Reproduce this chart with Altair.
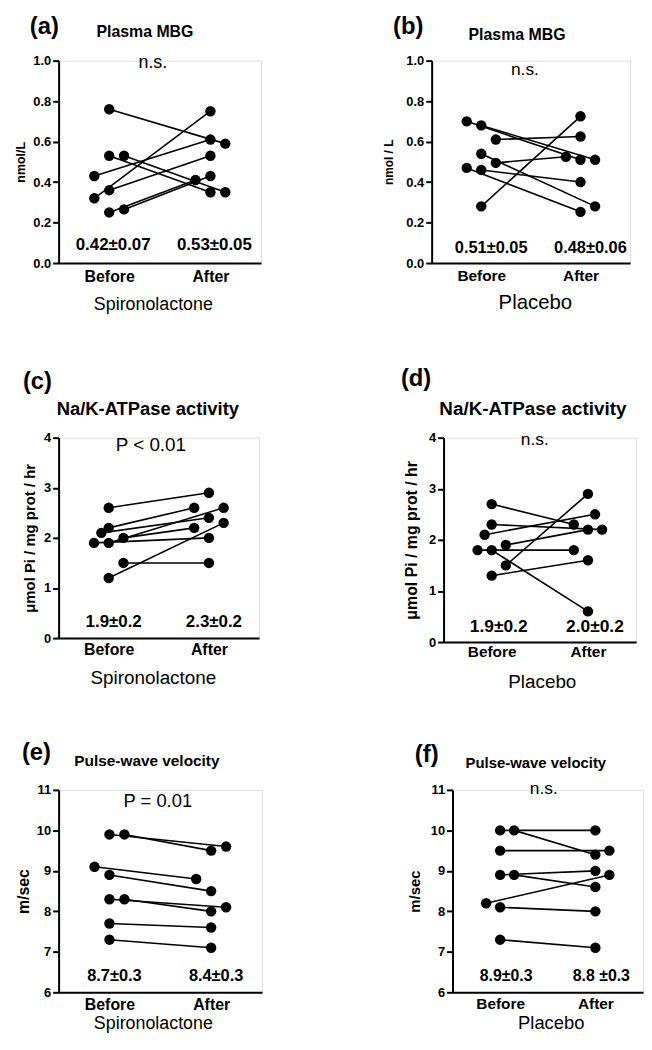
import altair as alt
import pandas as pd

# ---------------- data ----------------
# (a) Plasma MBG, Spironolactone
a_before = [0.76, 0.43, 0.32, 0.36, 0.53, 0.53, 0.25, 0.265]
a_after = [0.59, 0.61, 0.75, 0.53, 0.35, 0.35, 0.41, 0.43]
a_before_jit = [0, -1, -1, 0, 0, 1, 0, 1]
a_after_jit = [1, 0, 0, 0, 0, 1, -1, 0]
a_means = ["0.42\u00b10.07", "0.53\u00b10.05"]

# (b) Plasma MBG, Placebo
b_before = [0.70, 0.68, 0.61, 0.54, 0.495, 0.47, 0.46, 0.28]
b_after = [0.51, 0.51, 0.625, 0.28, 0.525, 0.253, 0.40, 0.725]
b_before_jit = [-1, 0, 1, 0, 1, -1, 0, 0]
b_after_jit = [0, 1, 0, 1, -1, 0, 0, 0]
b_means = ["0.51\u00b10.05", "0.48\u00b10.06"]

# (c) Na/K-ATPase activity, Spironolactone
c_before = [2.6, 2.2, 2.1, 1.9, 1.9, 2.0, 1.5, 1.2]
c_after = [2.9, 2.6, 2.4, 2.0, 2.6, 2.2, 1.5, 2.3]
c_before_jit = [0, 0, -0.5, -1, 0, 1, 1, 0]
c_after_jit = [0, -1, 0, 0, 1, -1, 0, 1]
c_means = ["1.9\u00b10.2", "2.3\u00b10.2"]

# (d) Na/K-ATPase activity, Placebo
d_before = [2.7, 2.3, 2.1, 1.8, 1.8, 1.9, 1.5, 1.3]
d_after = [2.3, 2.2, 2.5, 1.8, 0.6, 2.2, 2.9, 1.6]
d_before_jit = [0, 0, -0.5, -1, 0, 1, 1, 0]
d_after_jit = [-1, 1, 0.5, -1, 0, 0, 0, 0]
d_means = ["1.9\u00b10.2", "2.0\u00b10.2"]

# (e) Pulse-wave velocity, Spironolactone
e_before = [9.9, 9.9, 9.1, 8.9, 8.3, 8.3, 7.7, 7.3]
e_after = [9.6, 9.5, 8.8, 8.5, 8.1, 8.0, 7.6, 7.1]
e_before_jit = [0, 1, -1, 0, 0, 1, 0, 0]
e_after_jit = [1, 0, -1, 0, 1, 0, 0, 0]
e_means = ["8.7\u00b10.3", "8.4\u00b10.3"]

# (f) Pulse-wave velocity, Placebo
f_before = [10.0, 10.0, 9.5, 8.9, 8.9, 8.2, 8.1, 7.3]
f_after = [10.0, 9.4, 9.5, 9.0, 8.6, 8.9, 8.0, 7.1]
f_before_jit = [0, 1, 0, 0, 1, -1, 0, 0]
f_after_jit = [0, 0, 1, 0, 0, 1, 0, 0]
f_means = ["8.9\u00b10.3", "8.8 \u00b10.3"]

x_labels = ["Before", "After"]

FONT = "Liberation Sans, Arial, sans-serif"
JIT = 0.147


def panel(letter, title, ylab, xlab, before, after, bj, aj, ydom, yticks, yfmt,
          sig, means, w, h, geo, fs, box):
    rows = []
    for i, (b, a, jb, ja) in enumerate(zip(before, after, bj, aj)):
        rows.append({"subject": i, "x": 0 + jb * JIT, "y": b})
        rows.append({"subject": i, "x": 1 + ja * JIT, "y": a})
    df = pd.DataFrame(rows)

    xscale = alt.Scale(domain=[-0.5, 1.5], nice=False, zero=False)
    yscale = alt.Scale(domain=ydom, nice=False, zero=False)

    def xaxis():
        return alt.Axis(
            values=[0, 1], tickCount=2,
            labelExpr="datum.value == 0 ? '%s' : '%s'" % (x_labels[0], x_labels[1]),
            ticks=False, tickSize=0, grid=False, domainColor="black", domainWidth=2,
            labelFont=FONT, labelFontWeight="bold", labelFontSize=fs["xl"],
            labelColor="black", labelPadding=geo["xlp"], labelFlush=False,
            title=xlab, titleFont=FONT, titleFontWeight="normal",
            titleFontSize=fs["xt"], titleColor="black", titlePadding=geo["xtp"],
            titleX=geo["xtx"],
        )

    def yaxis():
        return alt.Axis(
            values=yticks, tickCount=len(yticks), format=yfmt, grid=False,
            domainColor="black", domainWidth=2,
            tickColor="black", tickWidth=2, tickSize=6,
            labelFont=FONT, labelFontWeight="bold", labelFontSize=fs["yl"],
            labelColor="black", labelPadding=2, labelFlush=False, labelOverlap=False,
            title=ylab, titleFont=FONT, titleFontWeight="bold",
            titleFontSize=fs["yt"], titleColor="black", titlePadding=geo["ytp"],
        )

    base = alt.Chart(df)
    lines = base.mark_line(color="black", strokeWidth=1.6).encode(
        x=alt.X("x:Q", scale=xscale, axis=xaxis()),
        y=alt.Y("y:Q", scale=yscale, axis=yaxis()),
        detail="subject:N",
    )
    points = base.mark_circle(color="black", opacity=1, size=110).encode(
        x=alt.X("x:Q", scale=xscale, axis=xaxis()),
        y=alt.Y("y:Q", scale=yscale, axis=yaxis()),
    )

    mdf = pd.DataFrame({"x": [0, 1], "t": means})
    mean_txt = alt.Chart(mdf).mark_text(
        font=FONT, fontWeight="bold", fontSize=fs["m"], color="black",
        baseline="middle", dx=geo["mdx"],
    ).encode(x=alt.X("x:Q", scale=xscale), y=alt.value(geo["my"]), text="t:N")

    sdf = pd.DataFrame({"t": [sig]})
    sig_txt = alt.Chart(sdf).mark_text(
        font=FONT, fontSize=fs["s"], color="black", baseline="middle",
    ).encode(x=alt.value(geo["sx"]), y=alt.value(geo["sy"]), text="t:N")

    ldf = pd.DataFrame({"t": [letter]})
    let_txt = alt.Chart(ldf).mark_text(
        font=FONT, fontWeight="bold", fontSize=24, color="black",
        baseline="top", align="left",
    ).encode(x=alt.value(geo["lx"]), y=alt.value(geo["ly"]), text="t:N")

    tdf = pd.DataFrame({"t": [title]})
    ttl_txt = alt.Chart(tdf).mark_text(
        font=FONT, fontWeight="bold", fontSize=fs["t"], color="black",
        baseline="middle",
    ).encode(x=alt.value(geo["tx"]), y=alt.value(geo["ty"]), text="t:N")

    # invisible frame that fixes the panel's layout box (left, top, bottom margins)
    L, T, B = box
    frame = alt.Chart(pd.DataFrame({"k": [0]})).mark_rule(
        opacity=0, strokeWidth=1, color="white"
    ).encode(x=alt.value(-L), x2=alt.value(w - 2), y=alt.value(-T), y2=alt.value(h + B))

    return alt.layer(lines, points, mean_txt, sig_txt, let_txt, ttl_txt, frame).properties(
        width=w, height=h)


pa = panel("(a)", "Plasma MBG", "nmol/L", "Spironolactone", a_before, a_after,
           a_before_jit, a_after_jit, [0, 1], [0, 0.2, 0.4, 0.6, 0.8, 1.0], ".1f",
           "n.s.", a_means, 204, 204,
           dict(xtx=95, xlp=6, xtp=11, ytp=5, mdx=4, my=186, sx=95, sy=2,
                lx=-29, ly=-46, tx=87, ty=-29),
           dict(xl=16, xt=18, yl=13, yt=12.5, m=17, s=18, t=16),
           (44, 48, 56))
pb = panel("(b)", "Plasma MBG", "nmol / L", "Placebo", b_before, b_after,
           b_before_jit, b_after_jit, [0, 1], [0, 0.2, 0.4, 0.6, 0.8, 1.0], ".1f",
           "n.s.", b_means, 200, 204,
           dict(xtx=104, xlp=6, xtp=8, ytp=10, mdx=10, my=189, sx=94, sy=9,
                lx=-39, ly=-46, tx=86, ty=-26),
           dict(xl=15.5, xt=20.5, yl=13, yt=12, m=16.5, s=17.5, t=16),
           (50, 48, 56))
pc = panel("(c)", "Na/K-ATPase activity", "\u03bcmol Pi / mg prot / hr", "Spironolactone",
           c_before, c_after, c_before_jit, c_after_jit, [0, 4], [0, 1, 2, 3, 4], "d",
           "P < 0.01", c_means, 202, 202,
           dict(xtx=95, xlp=4, xtp=11, ytp=6, mdx=5, my=186, sx=93, sy=7,
                lx=-36, ly=-68, tx=90, ty=-29),
           dict(xl=16, xt=19, yl=13, yt=15, m=17, s=19, t=18.5),
           (50, 118, 60))
pd_ = panel("(d)", "Na/K-ATPase activity", "\u03bcmol Pi / mg prot / hr", "Placebo",
            d_before, d_after, d_before_jit, d_after_jit, [0, 4], [0, 1, 2, 3, 4], "d",
            "n.s.", d_means, 194, 206,
            dict(xtx=99, xlp=3, xtp=12, ytp=9, mdx=7, my=191, sx=92, sy=2,
                 lx=-43, ly=-71, tx=90, ty=-29),
            dict(xl=15.5, xt=19, yl=13, yt=16, m=17.5, s=17.5, t=19),
            (45, 118, 56))
pe = panel("(e)", "Pulse-wave velocity", "m/sec", "Spironolactone",
           e_before, e_after, e_before_jit, e_after_jit, [6, 11], [6, 7, 8, 9, 10, 11], "d",
           "P = 0.01", e_means, 205, 204,
           dict(xtx=95, xlp=4, xtp=2, ytp=5, mdx=5, my=188, sx=100, sy=11,
                lx=-37, ly=-49, tx=89, ty=-29),
           dict(xl=16, xt=18, yl=13, yt=16, m=16.5, s=18.5, t=15.5),
           (44, 91, 40))
pf = panel("(f)", "Pulse-wave velocity", "m/sec", "Placebo",
           f_before, f_after, f_before_jit, f_after_jit, [6, 11], [6, 7, 8, 9, 10, 11], "d",
           "n.s.", f_means, 192, 204,
           dict(xtx=99, xlp=4, xtp=2, ytp=8, mdx=6, my=188, sx=92, sy=-1,
                lx=-38, ly=-47, tx=84, ty=-27),
           dict(xl=15.5, xt=18.5, yl=13, yt=15, m=16, s=17.5, t=15),
           (47, 91, 40))

row1 = alt.hconcat(pa, pb, spacing=120)
row2 = alt.hconcat(pc, pd_, spacing=139)
row3 = alt.hconcat(pe, pf, spacing=143)

chart = alt.vconcat(row1, row2, row3, spacing=0).properties(
    padding={"left": 0, "top": 0, "right": 0, "bottom": 0}
).configure_view(stroke=None).configure(background="white")

chart.save("out.html", embed_options={"renderer": "svg", "actions": False})
